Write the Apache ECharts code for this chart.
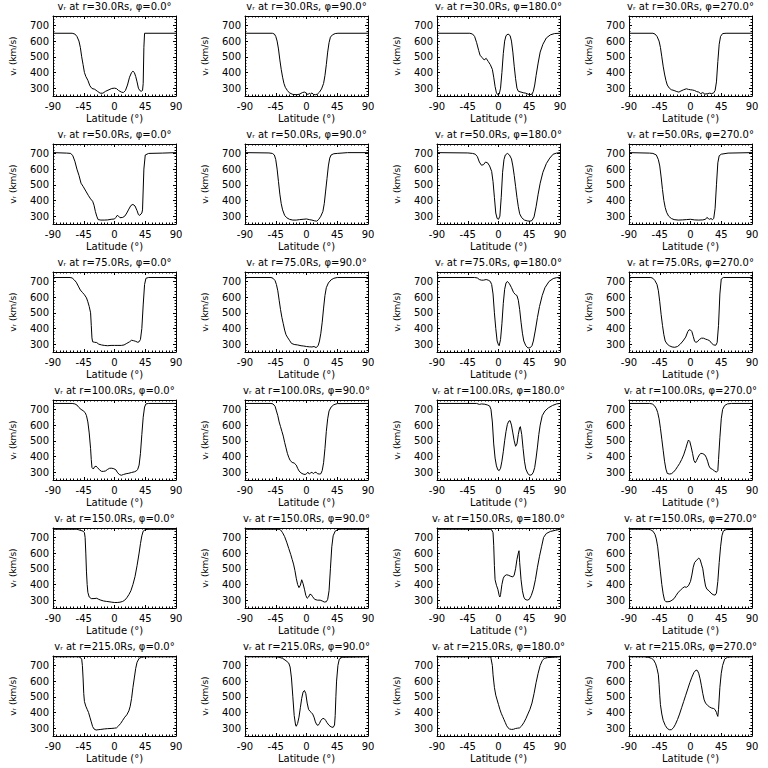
<!DOCTYPE html>
<html><head><meta charset="utf-8">
<script src="https://cdn.jsdelivr.net/npm/echarts@6/dist/echarts.min.js"></script>
<style>html,body{margin:0;padding:0;background:#fff}#c{width:768px;height:768px}</style>
</head><body><div id="c"></div>
<script>
const radii = ['30.0','50.0','75.0','100.0','150.0','215.0'];
const phis = ['0.0','90.0','180.0','270.0'];
const xTicks = [-90,-45,0,45,90];
const yTicks = [300,400,500,600,700];
const yMinorTicks = [260,280,320,340,360,380,420,440,460,480,520,540,560,580,620,640,660,680,720,740,760];

// [latitude, v_r] pairs
const r30_p0 = [[-90,650],[-62,650],[-58,645],[-55,630],[-52,600],[-50,560],[-48,500],[-46,450],[-44,400],[-42,375],[-39,350],[-36,315],[-33,298],[-29,293],[-25,280],[-21,268],[-17,268],[-13,280],[-8,290],[-4,298],[0,300],[3,297],[6,285],[10,275],[13,272],[16,285],[19,320],[22,370],[25,400],[27,408],[29,400],[31,375],[33,340],[35,300],[37,285],[39,280],[41,285],[42,330],[43,560],[44,650],[90,650]];
const r30_p90 = [[-90,650],[-50,650],[-47,645],[-45,630],[-43,600],[-41,550],[-39,480],[-37,420],[-35,370],[-33,330],[-31,305],[-28,285],[-25,270],[-20,260],[-14,258],[-10,262],[-6,272],[-3,275],[0,268],[2,258],[4,268],[6,262],[8,270],[10,260],[13,258],[16,262],[19,275],[22,295],[25,330],[27,380],[29,450],[31,530],[33,590],[35,625],[38,640],[42,648],[46,650],[90,650]];
const r30_p180 = [[-90,650],[-42,650],[-38,645],[-35,630],[-32,590],[-29,540],[-27,510],[-24,495],[-21,480],[-18,490],[-15,470],[-12,450],[-9,420],[-7,370],[-5,310],[-3,270],[-1,258],[1,262],[3,300],[5,400],[7,520],[9,600],[11,635],[14,645],[17,635],[19,600],[21,530],[23,440],[25,360],[27,300],[29,280],[33,275],[37,270],[40,268],[43,262],[46,258],[49,262],[51,280],[53,320],[55,380],[58,460],[61,530],[65,580],[70,620],[76,640],[82,648],[90,650]];
const r30_p270 = [[-90,650],[-55,650],[-52,645],[-49,630],[-46,600],[-44,560],[-42,500],[-40,440],[-38,390],[-36,350],[-34,320],[-31,300],[-28,290],[-24,285],[-20,278],[-17,275],[-14,282],[-10,290],[-6,296],[-3,292],[0,290],[3,288],[6,285],[9,278],[12,275],[15,265],[18,272],[21,262],[25,265],[28,268],[31,265],[34,270],[36,285],[38,340],[40,470],[42,580],[44,630],[47,648],[52,650],[90,650]];

const r50_p0 = [[-90,705],[-70,702],[-64,700],[-61,685],[-58,650],[-55,600],[-52,560],[-49,510],[-46,490],[-42,460],[-38,430],[-35,410],[-32,395],[-30,370],[-28,330],[-26,300],[-24,278],[-20,275],[-15,275],[-10,276],[-5,280],[0,282],[2,292],[4,305],[6,300],[8,290],[12,292],[15,300],[18,320],[21,345],[24,368],[27,375],[30,365],[33,335],[35,310],[37,305],[40,320],[41,340],[43,600],[45,690],[50,700],[70,702],[90,705]];
const r50_p90 = [[-90,705],[-55,703],[-50,700],[-47,690],[-45,660],[-43,600],[-41,520],[-39,440],[-37,380],[-35,340],[-32,305],[-29,290],[-25,280],[-20,275],[-15,275],[-10,278],[-5,280],[0,282],[4,278],[8,275],[12,270],[15,268],[18,280],[21,300],[24,330],[26,380],[28,460],[30,540],[32,620],[34,670],[36,690],[40,698],[45,700],[60,705],[90,705]];
const r50_p180 = [[-90,705],[-45,703],[-38,700],[-34,695],[-31,680],[-28,645],[-25,625],[-22,628],[-19,645],[-16,640],[-13,620],[-10,585],[-8,520],[-6,420],[-4,320],[-2,285],[0,280],[2,300],[4,420],[6,580],[8,660],[10,690],[13,700],[16,690],[19,665],[21,620],[23,560],[25,490],[27,420],[29,360],[31,315],[34,290],[38,275],[42,270],[46,268],[49,272],[52,295],[55,360],[58,440],[61,510],[65,580],[70,635],[75,670],[80,695],[85,702],[90,705]];
const r50_p270 = [[-90,705],[-60,702],[-55,700],[-50,690],[-47,660],[-45,620],[-43,550],[-41,470],[-39,400],[-37,355],[-35,325],[-32,300],[-28,285],[-24,278],[-18,275],[-12,276],[-6,278],[0,280],[6,276],[12,275],[18,276],[22,280],[24,292],[26,285],[28,280],[30,285],[32,278],[34,285],[36,350],[38,500],[40,640],[42,685],[45,695],[55,702],[90,705]];

const r75_p0 = [[-90,725],[-65,725],[-62,722],[-59,710],[-56,695],[-53,670],[-50,645],[-47,630],[-44,615],[-41,595],[-39,570],[-37,540],[-35,500],[-34,420],[-33,340],[-32,315],[-29,312],[-26,310],[-23,300],[-19,295],[-15,292],[-10,290],[-5,292],[0,292],[5,292],[10,292],[14,295],[18,305],[22,315],[25,325],[28,322],[31,318],[34,312],[36,315],[38,330],[40,400],[42,550],[44,680],[46,720],[50,725],[90,725]];
const r75_p90 = [[-90,725],[-52,725],[-49,720],[-46,705],[-44,680],[-42,640],[-40,580],[-38,520],[-36,470],[-34,430],[-32,390],[-30,360],[-28,345],[-25,325],[-22,305],[-18,298],[-13,295],[-8,290],[-4,288],[0,285],[4,283],[8,282],[11,285],[14,278],[17,290],[19,320],[21,370],[23,440],[25,530],[27,610],[29,660],[32,690],[36,710],[40,720],[45,725],[90,725]];
const r75_p180 = [[-90,725],[-35,725],[-31,722],[-28,712],[-25,708],[-22,708],[-18,712],[-15,708],[-12,700],[-10,680],[-8,620],[-6,500],[-4,400],[-2,320],[0,295],[1,290],[3,330],[5,430],[7,560],[9,650],[11,690],[13,700],[16,685],[19,660],[22,630],[25,615],[27,610],[29,580],[31,520],[33,440],[35,370],[37,320],[40,290],[43,276],[46,276],[49,290],[51,320],[54,390],[57,470],[60,540],[64,610],[68,660],[74,700],[80,718],[85,724],[90,725]];
const r75_p270 = [[-90,725],[-58,725],[-55,720],[-52,705],[-49,680],[-47,640],[-45,570],[-43,490],[-41,420],[-39,360],[-37,320],[-34,300],[-31,290],[-27,282],[-23,280],[-19,285],[-15,300],[-11,320],[-7,345],[-4,380],[-2,392],[0,390],[2,380],[4,350],[6,318],[8,312],[10,315],[13,330],[16,338],[19,338],[22,332],[25,328],[28,322],[31,305],[34,295],[37,293],[39,310],[41,420],[43,620],[45,715],[48,725],[90,725]];

const r100_p0 = [[-90,738],[-62,738],[-58,735],[-55,728],[-52,712],[-49,700],[-46,692],[-43,680],[-41,660],[-39,620],[-37,550],[-35,450],[-34,380],[-33,330],[-31,320],[-29,335],[-27,338],[-25,330],[-22,315],[-19,305],[-16,305],[-13,308],[-10,318],[-7,325],[-4,325],[-1,322],[2,315],[4,300],[7,285],[10,280],[13,285],[17,290],[21,293],[25,298],[29,302],[32,308],[34,318],[36,345],[38,420],[40,540],[42,650],[44,715],[46,735],[50,738],[90,738]];
const r100_p90 = [[-90,738],[-52,738],[-49,735],[-46,720],[-44,690],[-42,660],[-40,620],[-38,590],[-36,560],[-34,530],[-32,490],[-30,455],[-28,420],[-26,395],[-24,375],[-21,362],[-18,358],[-15,345],[-13,325],[-11,308],[-8,295],[-5,288],[-2,285],[0,290],[2,300],[4,288],[6,295],[8,300],[10,290],[12,298],[14,300],[16,290],[19,288],[21,290],[23,310],[25,360],[27,450],[29,560],[31,640],[33,690],[36,715],[40,730],[45,737],[90,738]];
const r100_p180 = [[-90,738],[-32,738],[-28,732],[-25,735],[-20,733],[-16,728],[-13,722],[-11,700],[-9,620],[-7,480],[-5,390],[-3,340],[-1,315],[1,310],[3,325],[5,370],[7,430],[9,500],[11,560],[13,605],[15,625],[17,628],[19,600],[21,550],[23,500],[25,465],[27,480],[29,540],[31,585],[32,590],[34,540],[36,450],[38,370],[40,320],[43,290],[46,280],[49,285],[51,300],[53,330],[55,390],[57,460],[59,540],[61,600],[64,660],[68,690],[73,710],[79,725],[85,735],[90,738]];
const r100_p270 = [[-90,738],[-60,738],[-56,735],[-53,725],[-50,705],[-48,680],[-46,640],[-44,580],[-42,510],[-40,440],[-38,370],[-36,320],[-34,292],[-31,288],[-28,290],[-25,300],[-22,315],[-19,335],[-16,355],[-13,380],[-10,410],[-7,450],[-5,480],[-3,505],[-1,495],[1,460],[3,420],[5,375],[7,360],[9,375],[11,395],[13,410],[15,420],[18,418],[21,410],[23,395],[25,370],[27,340],[29,325],[32,318],[35,308],[38,300],[40,310],[41,380],[43,520],[45,640],[47,700],[50,725],[54,735],[60,738],[90,738]];

const r150_p0 = [[-90,752],[-55,752],[-52,748],[-49,744],[-46,740],[-44,730],[-43,700],[-42,600],[-41,480],[-40,400],[-39,350],[-37,320],[-34,310],[-30,310],[-26,312],[-23,305],[-20,300],[-16,295],[-12,292],[-8,290],[-4,287],[0,285],[4,285],[8,287],[12,292],[15,300],[18,315],[21,335],[24,360],[27,400],[30,450],[33,520],[36,600],[38,660],[40,710],[42,740],[45,750],[50,752],[90,752]];
const r150_p90 = [[-90,752],[-40,752],[-38,748],[-35,730],[-32,705],[-29,670],[-26,630],[-23,590],[-21,560],[-19,530],[-17,490],[-15,440],[-13,400],[-11,380],[-9,395],[-7,430],[-5,405],[-3,370],[-1,330],[1,312],[3,320],[5,338],[7,335],[9,322],[12,305],[16,300],[20,300],[23,295],[26,288],[29,290],[31,305],[33,360],[35,500],[37,640],[39,710],[42,740],[46,750],[50,752],[90,752]];
const r150_p180 = [[-90,752],[-12,752],[-10,748],[-8,730],[-7,650],[-6,520],[-5,430],[-3,395],[-1,370],[1,330],[2,320],[3,335],[5,400],[7,440],[9,455],[12,462],[15,458],[18,452],[21,448],[23,460],[25,500],[27,560],[29,600],[30,615],[31,540],[33,430],[35,360],[37,320],[39,305],[42,300],[45,305],[48,330],[51,370],[54,430],[57,510],[60,580],[63,640],[66,700],[70,725],[76,738],[83,745],[90,752]];
const r150_p270 = [[-90,752],[-62,752],[-58,748],[-55,740],[-52,720],[-50,690],[-48,640],[-46,560],[-44,480],[-42,400],[-40,340],[-38,300],[-36,290],[-33,290],[-30,292],[-27,300],[-24,310],[-21,330],[-18,350],[-15,362],[-12,375],[-9,385],[-6,382],[-3,392],[0,420],[2,460],[4,510],[6,540],[9,555],[12,568],[14,560],[16,530],[18,500],[20,440],[22,390],[24,370],[27,360],[30,345],[33,335],[36,332],[38,345],[40,420],[42,540],[44,640],[46,710],[48,740],[52,750],[90,752]];

const r215_p0 = [[-90,755],[-52,755],[-50,750],[-48,740],[-47,700],[-46,620],[-45,520],[-44,470],[-42,440],[-40,420],[-38,400],[-36,370],[-34,340],[-32,310],[-30,295],[-27,288],[-24,290],[-20,292],[-15,295],[-10,297],[-5,298],[0,300],[3,302],[6,315],[9,330],[12,350],[15,370],[18,385],[21,410],[23,440],[25,490],[27,560],[29,620],[31,680],[33,720],[36,745],[40,753],[45,755],[90,755]];
const r215_p90 = [[-90,755],[-45,755],[-40,752],[-35,745],[-30,730],[-26,715],[-24,690],[-22,620],[-20,500],[-18,380],[-16,320],[-15,312],[-13,330],[-11,370],[-9,430],[-7,490],[-5,530],[-3,540],[-1,520],[1,460],[3,420],[5,408],[7,400],[9,390],[11,370],[13,340],[15,322],[17,318],[19,330],[21,350],[24,362],[26,360],[28,350],[30,335],[33,318],[36,308],[39,305],[41,320],[42,380],[43,500],[44,600],[46,700],[48,740],[52,752],[90,755]];
const r215_p180 = [[-90,755],[-13,755],[-11,745],[-9,700],[-8,640],[-6,560],[-4,510],[-2,480],[0,450],[2,420],[4,395],[6,375],[8,355],[10,335],[12,315],[14,302],[16,295],[19,292],[22,293],[25,298],[28,300],[31,302],[34,315],[37,335],[40,360],[43,390],[46,420],[49,460],[52,520],[55,590],[58,650],[61,700],[64,730],[67,745],[72,750],[80,752],[90,755]];
const r215_p270 = [[-90,755],[-68,755],[-62,752],[-57,745],[-54,735],[-51,710],[-49,680],[-47,640],[-46,580],[-45,510],[-44,450],[-42,390],[-40,350],[-37,318],[-34,298],[-31,290],[-28,290],[-25,302],[-22,325],[-19,355],[-16,390],[-13,430],[-10,470],[-7,510],[-4,550],[-1,590],[2,625],[5,655],[8,670],[10,668],[12,650],[14,615],[16,570],[18,520],[20,480],[22,460],[25,445],[28,435],[31,428],[34,425],[36,418],[38,400],[39,385],[40,375],[41,420],[43,560],[45,650],[47,700],[50,740],[54,752],[60,755],[90,755]];

const panels = [
  [r30_p0, r30_p90, r30_p180, r30_p270],
  [r50_p0, r50_p90, r50_p180, r50_p270],
  [r75_p0, r75_p90, r75_p180, r75_p270],
  [r100_p0, r100_p90, r100_p180, r100_p270],
  [r150_p0, r150_p90, r150_p180, r150_p270],
  [r215_p0, r215_p90, r215_p180, r215_p270]
];

const FONT = 'DejaVu Sans';
const BLACK = '#000';
const grid = [], xAxis = [], yAxis = [], series = [], graphic = [];
const PW = 192, PH = 128, BL = 53, BT = 16, BW = 123, BH = 80;

for (let r = 0; r < 6; r++) {
  for (let c = 0; c < 4; c++) {
    const gi = grid.length;
    const left = PW * c + BL, top = PH * r + BT;
    grid.push({left: left, top: top, width: BW, height: BH, containLabel: false});
    const lineSt = {show: true, onZero: false, lineStyle: {color: BLACK, width: 1}};
    const noLine = {show: false, onZero: false};
    const xBase = {
      type: 'value', gridIndex: gi, min: xTicks[0], max: xTicks[xTicks.length - 1], interval: 45,
      splitLine: {show: false}, axisLine: lineSt,
      axisTick: {show: true, inside: true, length: 3, lineStyle: {color: BLACK}},
      minorTick: {show: true, splitNumber: 9, length: 1.5, lineStyle: {color: BLACK}}
    };
    xAxis.push(Object.assign({}, xBase, {
      position: 'bottom',
      axisLabel: {show: true, margin: 5, color: BLACK, fontFamily: FONT, fontSize: 10},
      name: 'Latitude (°)', nameLocation: 'middle', nameGap: 17,
      nameTextStyle: {color: BLACK, fontFamily: FONT, fontSize: 10}
    }));
    xAxis.push(Object.assign({}, xBase, {position: 'top', axisLabel: {show: false}}));
    const yBase = {
      type: 'value', gridIndex: gi, min: 250, max: 760,
      splitLine: {show: false}, axisLine: lineSt
    };
    yAxis.push(Object.assign({}, yBase, {
      position: 'left',
      axisTick: {show: true, inside: true, length: 3, customValues: yTicks, lineStyle: {color: BLACK}},
      axisLabel: {show: true, customValues: yTicks, margin: 4, color: BLACK, fontFamily: FONT, fontSize: 10},
      name: 'vᵣ (km/s)', nameLocation: 'middle', nameGap: 36, nameRotate: 90,
      nameTextStyle: {color: BLACK, fontFamily: FONT, fontSize: 9}
    }));
    yAxis.push(Object.assign({}, yBase, {
      position: 'right',
      axisTick: {show: true, inside: true, length: 3, customValues: yTicks, lineStyle: {color: BLACK}},
      axisLabel: {show: false}
    }));
    yAxis.push(Object.assign({}, yBase, {
      position: 'left', axisLine: noLine,
      axisTick: {show: true, inside: true, length: 1.5, customValues: yMinorTicks, lineStyle: {color: BLACK}},
      axisLabel: {show: false}
    }));
    yAxis.push(Object.assign({}, yBase, {
      position: 'right', axisLine: noLine,
      axisTick: {show: true, inside: true, length: 1.5, customValues: yMinorTicks, lineStyle: {color: BLACK}},
      axisLabel: {show: false}
    }));
    series.push({
      type: 'line', xAxisIndex: 2 * gi, yAxisIndex: 4 * gi,
      data: panels[r][c], showSymbol: false, symbol: 'none', smooth: false,
      lineStyle: {color: BLACK, width: 1}, silent: true, animation: false, clip: true
    });
    graphic.push({
      type: 'text', x: left + BW / 2, y: PH * r + 1,
      style: {
        text: 'vᵣ at r=' + radii[r] + 'Rs, φ=' + phis[c] + '°',
        fill: BLACK, font: '10px "' + FONT + '"', textAlign: 'center', textVerticalAlign: 'top'
      }
    });
  }
}

const chart = echarts.init(document.getElementById('c'), null, {renderer: 'svg'});
chart.setOption({
  animation: false, backgroundColor: '#fff',
  grid: grid, xAxis: xAxis, yAxis: yAxis, series: series, graphic: graphic
});
</script></body></html>
